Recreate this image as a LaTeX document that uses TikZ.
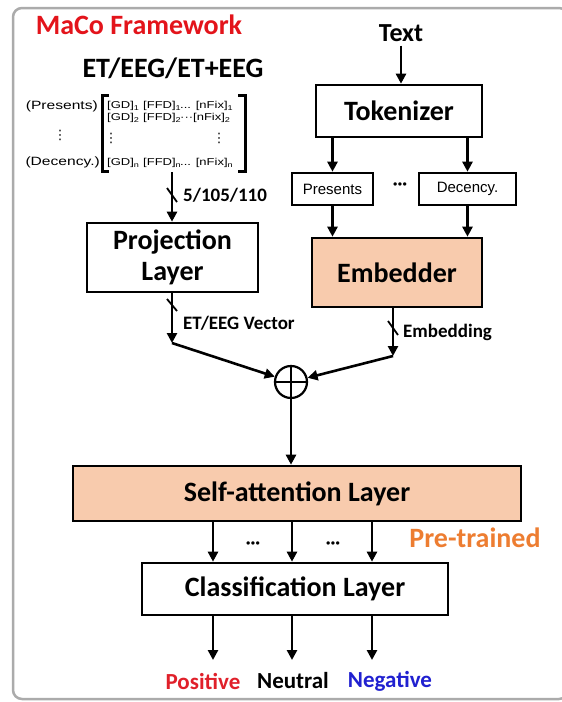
\documentclass[tikz,border=0pt]{standalone}
\usepackage{fontspec}
\setmainfont{Carlito}
\newfontfamily\arialfont{Liberation Sans}
\newfontfamily\matfont[FakeStretch=1.3]{Liberation Sans}
\newfontfamily\dejavu{DejaVu Sans}
\usetikzlibrary{arrows.meta}
\definecolor{peach}{HTML}{F8CBAD}
\definecolor{macored}{HTML}{E3141B}
\definecolor{pretrain}{HTML}{ED7D31}
\definecolor{posred}{HTML}{E0202A}
\definecolor{negblue}{HTML}{2020D0}
\definecolor{framegray}{HTML}{ABABAB}
\newcommand\mrow[3]{\makebox[36pt][l]{#1}\makebox[37pt][l]{#2}#3}
\begin{document}
\begin{tikzpicture}[x=1pt,y=-1pt,
  box/.style={draw=black,line width=2.6pt,inner sep=0pt,font=\bfseries\fontsize{28}{33}\selectfont},
  smallbox/.style={draw=black,line width=2.6pt,inner sep=0pt,font=\arialfont\fontsize{15}{18}\selectfont},
  arr/.style={line width=2.6pt,-{Triangle[length=10pt,width=10pt]}},
  tick/.style={line width=1.8pt},
  lbl/.style={font=\bfseries\fontsize{19}{22}\selectfont,anchor=west,inner sep=0pt},
  matf/.style={font=\matfont\fontsize{10}{12}\selectfont,inner sep=0pt},
  labf/.style={font=\matfont\fontsize{12}{14}\selectfont,inner sep=0pt},
  vdf/.style={font=\dejavu\fontsize{13}{14}\selectfont,inner sep=0pt},
  outl/.style={font=\bfseries\fontsize{23}{27}\selectfont,inner sep=0pt}]
\useasboundingbox (0,0) rectangle (562,702);
% frame
\draw[framegray,line width=2.5pt,rounded corners=9pt] (13,8) rectangle (568,699);
% titles
\node[font=\bfseries\fontsize{28}{33}\selectfont,text=macored,inner sep=0pt] (title) at (139,25) {MaCo Framework};
\node[font=\bfseries\fontsize{28}{33}\selectfont,inner sep=0pt] (modal) at (173,68) {ET/EEG/ET+EEG};
% matrix
\node[labf,anchor=east] (lp) at (98,106) {(Presents)};
\node[vdf] (lv) at (60,135) {⋮};
\node[labf,anchor=east] (ld) at (100,162) {(Decency.)};
\node[matf,anchor=west] (r1) at (107,106) {\mrow{[GD]\textsubscript{1}}{[FFD]\textsubscript{1}}{... [nFix]\textsubscript{1}}};
\node[matf,anchor=west] (r2) at (107,118) {\mrow{[GD]\textsubscript{2}}{[FFD]\textsubscript{2}}{···[nFix]\textsubscript{2}}};
\node[vdf] (v1) at (111,138) {⋮};
\node[vdf] (v2) at (219,138) {⋮};
\node[matf,anchor=west] (rn) at (107,163) {\mrow{[GD]\textsubscript{n}}{[FFD]\textsubscript{n}}{... [nFix]\textsubscript{n}}};
\draw[line width=3pt] (109,95) -- (102,95) -- (102,171) -- (109,171);
\draw[line width=3pt] (238,95) -- (245,95) -- (245,171) -- (238,171);
\coordinate (matbot) at (172,172);
% projection
\node[box,align=center,minimum width=171pt,minimum height=69pt] (proj) at (172.5,257.5) {Projection\\[-2pt]Layer};
\draw[arr] (matbot) -- (matbot |- proj.north);
\draw[tick] (167,188) -- (177,202);
\node[lbl] (l1) at (183,195) {5/105/110};
% text branch
\node[font=\bfseries\fontsize{26}{30}\selectfont,inner sep=0pt] (text) at (401,33) {Text};
\node[box,minimum width=166pt,minimum height=52pt] (tok) at (399,111) {Tokenizer};
\draw[arr,shorten <=4pt] (text.south) -- (text.south |- tok.north);
\node[smallbox,minimum width=81pt,minimum height=32pt] (pres) at (332.5,189) {Presents};
\node[smallbox,minimum width=97pt,minimum height=32pt] (dec) at (467.5,189) {Decency.};
\node[font=\bfseries\fontsize{18}{20}\selectfont,inner sep=0pt] (tdots) at (400,186) {···};
\draw[arr] (tok.south -| pres.north) -- (pres.north);
\draw[arr] (tok.south -| dec.north) -- (dec.north);
\node[box,fill=peach,minimum width=170pt,minimum height=69pt] (emb) at (397,272.5) {Embedder};
\draw[arr] (pres.south) -- (pres.south |- emb.north);
\draw[arr] (dec.south) -- (dec.south |- emb.north);
% fusion
\node[draw,circle,line width=2.2pt,minimum size=32pt,inner sep=0pt] (op) at (291,382) {};
\draw[line width=2.2pt] (op.north) -- (op.south) (op.west) -- (op.east);
\coordinate (lc) at (172,343);
\coordinate (rc) at (393,356);
\draw[arr] (proj.south -| lc) -- (lc);
\draw[arr] (lc) -- (op);
\draw[tick] (167,299) -- (177,311);
\node[lbl] (l2) at (183,323) {ET/EEG Vector};
\draw[arr] (emb.south -| rc) -- (rc);
\draw[arr] (rc) -- (op);
\draw[tick] (388,321) -- (398,335);
\node[lbl] (l3) at (403,332) {Embedding};
% self-attention
\node[box,fill=peach,minimum width=448pt,minimum height=55pt] (sa) at (297,493.5) {Self-attention Layer};
\draw[arr] (op.south) -- (op.south |- sa.north);
\node[box,minimum width=306pt,minimum height=52pt] (cl) at (295,589) {Classification Layer};
\coordinate (c1) at (213,0);
\coordinate (c2) at (292,0);
\coordinate (c3) at (372,0);
\draw[arr] (sa.south -| c1) -- (cl.north -| c1);
\draw[arr] (sa.south -| c2) -- (cl.north -| c2);
\draw[arr] (sa.south -| c3) -- (cl.north -| c3);
\node[font=\bfseries\fontsize{18}{20}\selectfont,inner sep=0pt] (d1) at (253,545) {···};
\node[font=\bfseries\fontsize{18}{20}\selectfont,inner sep=0pt] (d2) at (333,545) {···};
\node[font=\bfseries\fontsize{28}{33}\selectfont,text=pretrain,inner sep=0pt] (pt) at (475,538) {Pre-trained};
% outputs
\coordinate (o1) at (213,660);
\coordinate (o2) at (292,660);
\coordinate (o3) at (372,660);
\draw[arr] (cl.south -| o1) -- (o1);
\draw[arr] (cl.south -| o2) -- (o2);
\draw[arr] (cl.south -| o3) -- (o3);
\node[outl,text=posred] (pos) at (203,681) {Positive};
\node[outl] (neu) at (293,681) {Neutral};
\node[outl,text=negblue] (neg) at (390,681) {Negative};
\end{tikzpicture}
\end{document}
